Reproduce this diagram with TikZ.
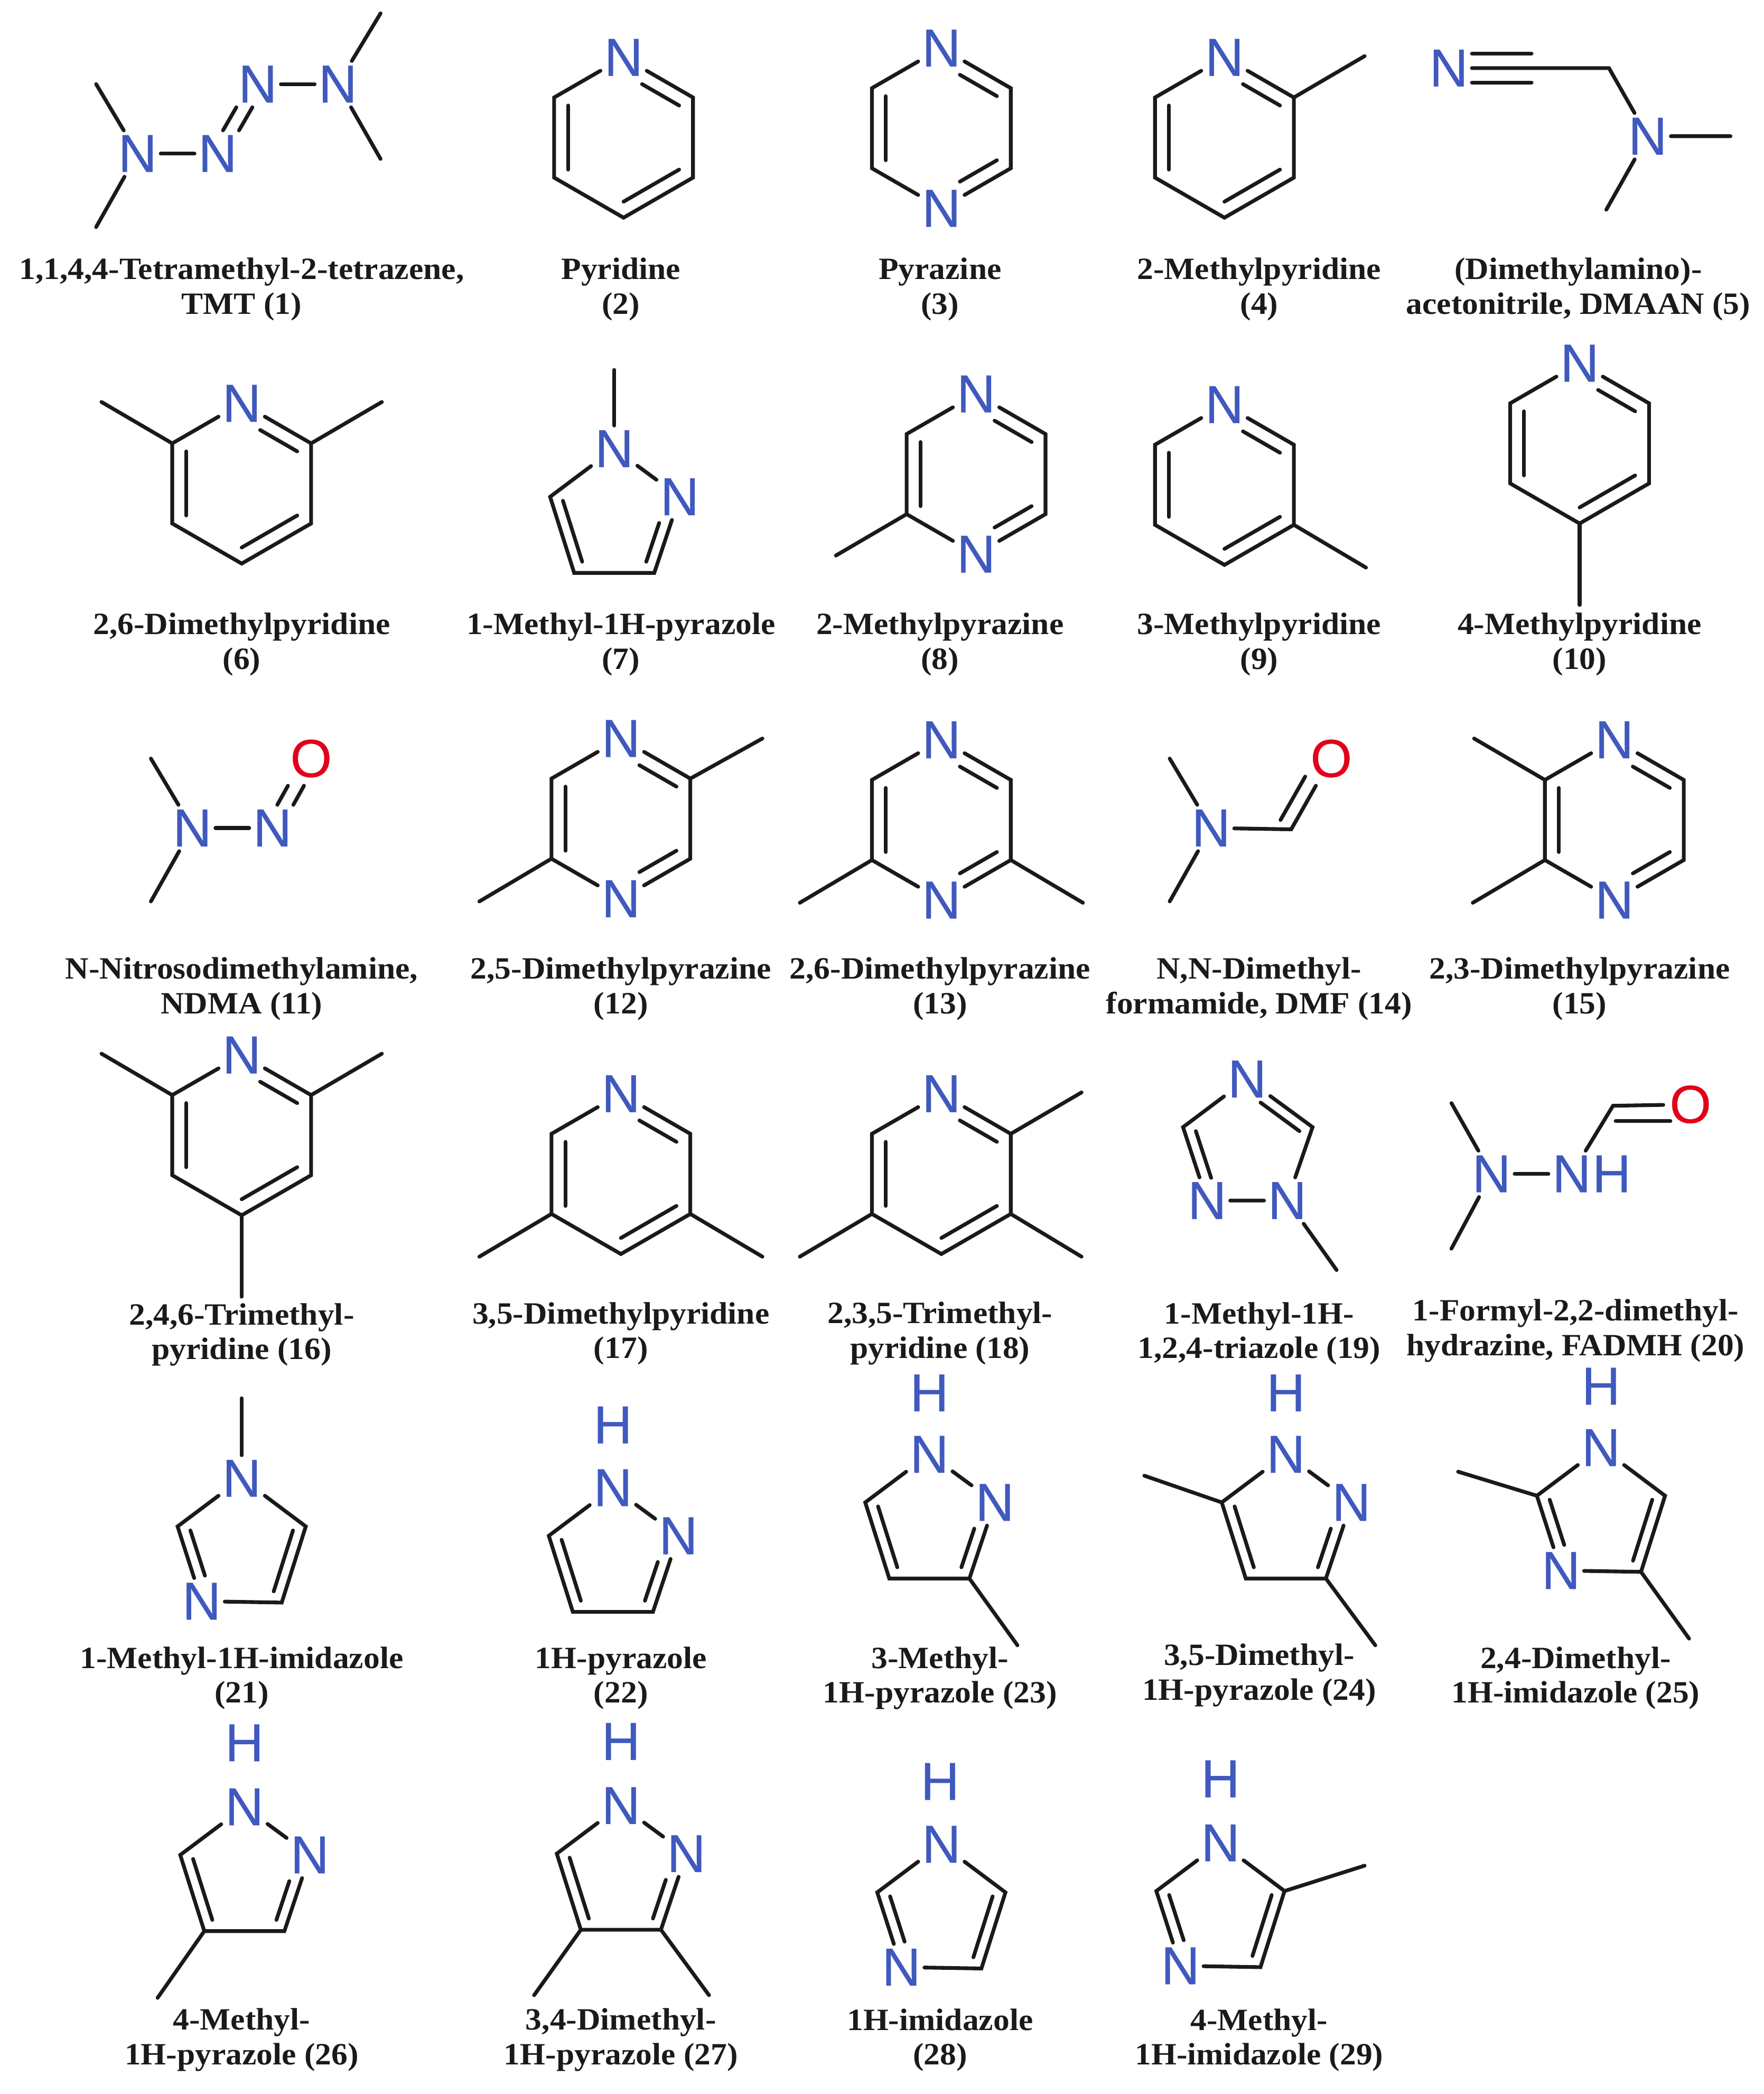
\documentclass[tikz,border=0pt]{standalone}
\usepackage{fontspec}
\setmainfont{Liberation Serif}[FakeStretch=1.05]
\newfontfamily\atomfont{Liberation Sans}[FakeBold=0.3]
\usepackage{xcolor}
\usetikzlibrary{calc}
\definecolor{nblue}{HTML}{3F59BE}
\definecolor{ored}{HTML}{E2001A}
\definecolor{bondcol}{HTML}{1A1A1A}

\begin{document}
\begin{tikzpicture}[x=0.02cm, y=-0.02cm, font=\fontsize{13.2}{14.75}\selectfont\bfseries]
	\tikzset	{
		bond/.style={draw=bondcol, line width=1.6pt, line cap=round},
		atom/.style={rectangle, inner sep=0pt, minimum size=0.68cm, text=nblue, font=\fontsize{22.8}{24}\selectfont\mdseries\atomfont},
		oxy/.style={atom, minimum size=0.8cm, text=ored},
		lbl/.style={align=center, inner sep=0pt, text=bondcol, yshift=-0.05cm},
	}
	\tikzset	{
		pyring/.pic={
			code={
				\coordinate (c) at (0,0);
				\node[atom] (t) at (0,-60) {N};
				\coordinate (ur) at (52,-30);
				\coordinate (lr) at (52,30);
				\coordinate (b) at (0,60);
				\coordinate (ll) at (-52,30);
				\coordinate (ul) at (-52,-30);
				\draw[bond] (t) -- (ur) -- (lr) -- (b) -- (ll) -- (ul) -- (t);
				\draw[bond, shorten <=0.32cm] ($(t.center)!0.2!(c)$) -- ($(ur)!0.2!(c)$);
				\draw[bond] ($(lr)!0.2!(c)$) -- ($(b)!0.2!(c)$);
				\draw[bond] ($(ll)!0.2!(c)$) -- ($(ul)!0.2!(c)$);
			}
		},
	}
	\tikzset	{
		pzring/.pic={
			code={
				\coordinate (c) at (0,0);
				\node[atom] (t) at (0,-60) {N};
				\coordinate (ur) at (52,-30);
				\coordinate (lr) at (52,30);
				\node[atom] (b) at (0,60) {N};
				\coordinate (ll) at (-52,30);
				\coordinate (ul) at (-52,-30);
				\draw[bond] (t) -- (ur) -- (lr) -- (b) -- (ll) -- (ul) -- (t);
				\draw[bond, shorten <=0.32cm] ($(t.center)!0.2!(c)$) -- ($(ur)!0.2!(c)$);
				\draw[bond, shorten >=0.32cm] ($(lr)!0.2!(c)$) -- ($(b.center)!0.2!(c)$);
				\draw[bond] ($(ll)!0.2!(c)$) -- ($(ul)!0.2!(c)$);
			}
		},
	}
	\tikzset	{
		pzlring/.pic={
			code={
				\coordinate (c) at (0,0);
				\node[atom] (t) at (0,-51) {N};
				\node[atom] (r) at (49,-15) {N};
				\coordinate (br) at (30,42);
				\coordinate (bl) at (-30,42);
				\coordinate (l) at (-48,-15);
				\draw[bond] (t) -- (r) -- (br) -- (bl) -- (l) -- (t);
				\draw[bond, shorten <=0.35cm] ($(r.center)!0.2!(c)$) -- ($(br)!0.2!(c)$);
				\draw[bond] ($(bl)!0.2!(c)$) -- ($(l)!0.2!(c)$);
			}
		},
	}
	\tikzset	{
		imring/.pic={
			code={
				\coordinate (c) at (0,0);
				\node[atom] (t) at (0,-51) {N};
				\coordinate (r) at (48,-15);
				\coordinate (br) at (30,42);
				\node[atom] (bl) at (-30,41) {N};
				\coordinate (l) at (-48,-15);
				\draw[bond] (t) -- (r) -- (br) -- (bl) -- (l) -- (t);
				\draw[bond] ($(r)!0.2!(c)$) -- ($(br)!0.2!(c)$);
				\draw[bond, shorten <=0.23cm] ($(bl.center)!0.2!(c)$) -- ($(l)!0.2!(c)$);
			}
		},
	}
	\useasboundingbox (0,0) rectangle (1321,1568);

	% first row
	\node[atom] (n1a) at (103,115) {N};
	\node[atom] (n1b) at (163,115) {N};
	\node[atom] (n1c) at (193,63) {N};
	\node[atom] (n1d) at (253,63) {N};
	\coordinate (c1a) at (72,63);
	\coordinate (c1b) at (72,170);
	\coordinate (c1c) at (285,10);
	\coordinate (c1d) at (285,119);
	\draw[bond] (n1a) -- (n1b);
	\draw[bond] (n1c) -- (n1d);
	\draw[bond] (c1a) -- (n1a);
	\draw[bond] (c1b) -- (n1a);
	\draw[bond] (c1c) -- (n1d);
	\draw[bond] (c1d) -- (n1d);
	\draw[bond, transform canvas={xshift=-0.12cm}] (n1b) -- (n1c);
	\draw[bond, transform canvas={xshift=0.12cm}] (n1b) -- (n1c);
	\node[lbl] (l1) at (181,214) {1,1,4,4-Tetramethyl-2-tetrazene,\\TMT (1)};

	\pic (m2) at (467,103) {pyring};
	\node[lbl] (l2) at (465,214) {Pyridine\\(2)};

	\pic (m3) at (705,96) {pzring};
	\node[lbl] (l3) at (704,214) {Pyrazine\\(3)};

	\pic (m4) at (917,103) {pyring};
	\coordinate (c4a) at (1022,42);
	\draw[bond] (m4ur) -- (c4a);
	\node[lbl] (l4) at (943,214) {2-Methylpyridine\\(4)};

	\node[atom] (n5a) at (1085,51) {N};
	\coordinate (c5a) at (1147,51);
	\coordinate (c5b) at (1205,51);
	\node[atom] (n5b) at (1234,102) {N};
	\coordinate (c5c) at (1296,102);
	\coordinate (c5d) at (1203,157);
	\draw[bond] (n5a) -- (c5a) -- (c5b) -- (n5b) -- (c5c);
	\draw[bond] (n5b) -- (c5d);
	\draw[bond, transform canvas={yshift=0.216cm}] (n5a) -- (c5a);
	\draw[bond, transform canvas={yshift=-0.216cm}] (n5a) -- (c5a);
	\node[lbl] (l5) at (1182,214) {(Dimethylamino)-\\acetonitrile, DMAAN (5)};

	% second row
	\pic (m6) at (181,362) {pyring};
	\coordinate (c6a) at (76,301);
	\coordinate (c6b) at (286,301);
	\draw[bond] (m6ul) -- (c6a);
	\draw[bond] (m6ur) -- (c6b);
	\node[lbl] (l6) at (181,480) {2,6-Dimethylpyridine\\(6)};

	\pic (m7) at (460,387) {pzlring};
	\coordinate (c7a) at (460,277);
	\draw[bond] (m7t) -- (c7a);
	\node[lbl] (l7) at (465,480) {1-Methyl-1H-pyrazole\\(7)};

	\pic (m8) at (731,355) {pzring};
	\coordinate (c8a) at (626,416);
	\draw[bond] (m8ll) -- (c8a);
	\node[lbl] (l8) at (704,480) {2-Methylpyrazine\\(8)};

	\pic (m9) at (917,363) {pyring};
	\coordinate (c9a) at (1023,425);
	\draw[bond] (m9lr) -- (c9a);
	\node[lbl] (l9) at (943,480) {3-Methylpyridine\\(9)};

	\pic (m10) at (1183,332) {pyring};
	\coordinate (c10a) at (1183,453);
	\draw[bond] (m10b) -- (c10a);
	\node[lbl] (l10) at (1183,480) {4-Methylpyridine\\(10)};

	% third row
	\node[atom] (n11a) at (144,620) {N};
	\node[atom] (n11b) at (204,620) {N};
	\node[oxy] (o11) at (233,568) {O};
	\coordinate (c11a) at (113,568);
	\coordinate (c11b) at (113,675);
	\draw[bond] (n11a) -- (n11b);
	\draw[bond] (c11a) -- (n11a);
	\draw[bond] (c11b) -- (n11a);
	\draw[bond, transform canvas={xshift=-0.12cm}] (n11b) -- (o11);
	\draw[bond, transform canvas={xshift=0.12cm}] (n11b) -- (o11);
	\node[lbl] (l11) at (181,738) {N-Nitrosodimethylamine,\\NDMA (11)};

	\pic (m12) at (465,613) {pzring};
	\coordinate (c12a) at (571,553);
	\coordinate (c12b) at (359,675);
	\draw[bond] (m12ur) -- (c12a);
	\draw[bond] (m12ll) -- (c12b);
	\node[lbl] (l12) at (465,738) {2,5-Dimethylpyrazine\\(12)};

	\pic (m13) at (705,614) {pzring};
	\coordinate (c13a) at (599,676);
	\coordinate (c13b) at (811,676);
	\draw[bond] (m13ll) -- (c13a);
	\draw[bond] (m13lr) -- (c13b);
	\node[lbl] (l13) at (704,738) {2,6-Dimethylpyrazine\\(13)};

	\node[atom] (n14) at (907,620) {N};
	\coordinate (c14) at (967,621);
	\node[oxy] (o14) at (997,568) {O};
	\coordinate (c14a) at (876,568);
	\coordinate (c14b) at (876,675);
	\coordinate (c14c) at (959,614);
	\coordinate (c14d) at (977.5,581.5);
	\draw[bond] (n14) -- (c14) -- (o14);
	\draw[bond] (c14a) -- (n14);
	\draw[bond] (c14b) -- (n14);
	\draw[bond] (c14c) -- (c14d);
	\node[lbl] (l14) at (943,738) {N,N-Dimethyl-\\formamide, DMF (14)};

	\pic (m15) at (1209,614) {pzring};
	\coordinate (c15a) at (1104,553);
	\coordinate (c15b) at (1103,676);
	\draw[bond] (m15ul) -- (c15a);
	\draw[bond] (m15ll) -- (c15b);
	\node[lbl] (l15) at (1183,738) {2,3-Dimethylpyrazine\\(15)};

	% fourth row
	\pic (m16) at (181,850) {pyring};
	\coordinate (c16a) at (76,789);
	\coordinate (c16b) at (286,789);
	\coordinate (c16c) at (181,971);
	\draw[bond] (m16ul) -- (c16a);
	\draw[bond] (m16ur) -- (c16b);
	\draw[bond] (m16b) -- (c16c);
	\node[lbl] (l16) at (181,997) {2,4,6-Trimethyl-\\pyridine (16)};

	\pic (m17) at (465,879) {pyring};
	\coordinate (c17a) at (359,941);
	\coordinate (c17b) at (571,941);
	\draw[bond] (m17ll) -- (c17a);
	\draw[bond] (m17lr) -- (c17b);
	\node[lbl] (l17) at (465,996) {3,5-Dimethylpyridine\\(17)};

	\pic (m18) at (705,879) {pyring};
	\coordinate (c18a) at (810,818);
	\coordinate (c18b) at (810,941);
	\coordinate (c18c) at (599,941);
	\draw[bond] (m18ur) -- (c18a);
	\draw[bond] (m18lr) -- (c18b);
	\draw[bond] (m18ll) -- (c18c);
	\node[lbl] (l18) at (704,996) {2,3,5-Trimethyl-\\pyridine (18)};

	\coordinate (r19) at (934,859);
	\node[atom] (n19a) at (934,808) {N};
	\coordinate (c19a) at (983,844);
	\node[atom] (n19b) at (964,899) {N};
	\node[atom] (n19c) at (904,899) {N};
	\coordinate (c19b) at (886,844);
	\coordinate (c19c) at (1001,951);
	\draw[bond] (n19a) -- (c19a) -- (n19b) -- (n19c) -- (c19b) -- (n19a);
	\draw[bond] (n19b) -- (c19c);
	\draw[bond, shorten <=0.25cm] ($(n19a.center)!0.2!(r19)$) -- ($(c19a)!0.2!(r19)$);
	\draw[bond, shorten <=0.19cm] ($(n19c.center)!0.2!(r19)$) -- ($(c19b)!0.2!(r19)$);
	\node[lbl] (l19) at (943,996) {1-Methyl-1H-\\1,2,4-triazole (19)};

	\node[atom] (n20a) at (1117,879) {N};
	\node[atom] (n20b) at (1177,879) {N};
	\node[atom] (h20) at (1207,879) {H};
	\coordinate (c20a) at (1208,828);
	\node[oxy] (o20) at (1266,827) {O};
	\coordinate (c20b) at (1087,826);
	\coordinate (c20c) at (1087,935);
	\coordinate (c20d) at (1210,839.5);
	\coordinate (c20e) at (1251,839.5);
	\draw[bond] (n20a) -- (n20b);
	\draw[bond] (c20b) -- (n20a);
	\draw[bond] (c20c) -- (n20a);
	\draw[bond] (n20b) -- (c20a) -- (o20);
	\draw[bond] (c20d) -- (c20e);
	\node[lbl] (l20) at (1180,994) {1-Formyl-2,2-dimethyl-\\hydrazine, FADMH (20)};

	% fifth row
	\pic (m21) at (181,1158) {imring};
	\coordinate (c21a) at (181,1047);
	\draw[bond] (m21t) -- (c21a);
	\node[lbl] (l21) at (181,1254) {1-Methyl-1H-imidazole\\(21)};

	\pic (m22) at (459,1165) {pzlring};
	\node[atom] (h22) at (459,1067) {H};
	\node[lbl] (l22) at (465,1254) {1H-pyrazole\\(22)};

	\pic (m23) at (696,1140) {pzlring};
	\node[atom] (h23) at (696,1043) {H};
	\coordinate (c23a) at (762,1232);
	\draw[bond] (m23br) -- (c23a);
	\node[lbl] (l23) at (704,1254) {3-Methyl-\\1H-pyrazole (23)};

	\pic (m24) at (963,1140) {pzlring};
	\node[atom] (h24) at (963,1043) {H};
	\coordinate (c24a) at (857,1105);
	\coordinate (c24b) at (1030,1232);
	\draw[bond] (m24l) -- (c24a);
	\draw[bond] (m24br) -- (c24b);
	\node[lbl] (l24) at (943,1252) {3,5-Dimethyl-\\1H-pyrazole (24)};

	\pic (m25) at (1199,1135) {imring};
	\node[atom] (h25) at (1199,1038) {H};
	\coordinate (c25a) at (1092,1102);
	\coordinate (c25b) at (1265,1227);
	\draw[bond] (m25l) -- (c25a);
	\draw[bond] (m25br) -- (c25b);
	\node[lbl] (l25) at (1180,1254) {2,4-Dimethyl-\\1H-imidazole (25)};

	% last row
	\pic (m26) at (183,1404) {pzlring};
	\node[atom] (h26) at (183,1305) {H};
	\coordinate (c26a) at (118,1496);
	\draw[bond] (m26bl) -- (c26a);
	\node[lbl] (l26) at (181,1525) {4-Methyl-\\1H-pyrazole (26)};

	\pic (m27) at (465,1403) {pzlring};
	\node[atom] (h27) at (465,1304) {H};
	\coordinate (c27a) at (400,1494);
	\coordinate (c27b) at (531,1494);
	\draw[bond] (m27bl) -- (c27a);
	\draw[bond] (m27br) -- (c27b);
	\node[lbl] (l27) at (465,1525) {3,4-Dimethyl-\\1H-pyrazole (27)};

	\pic (m28) at (705,1432) {imring};
	\node[atom] (h28) at (704,1334) {H};
	\node[lbl] (l28) at (704,1525) {1H-imidazole\\(28)};

	\pic (m29) at (914,1431) {imring};
	\node[atom] (h29) at (914,1332) {H};
	\coordinate (c29a) at (1022,1397);
	\draw[bond] (m29r) -- (c29a);
	\node[lbl] (l29) at (943,1525) {4-Methyl-\\1H-imidazole (29)};
\end{tikzpicture}
\end{document}
